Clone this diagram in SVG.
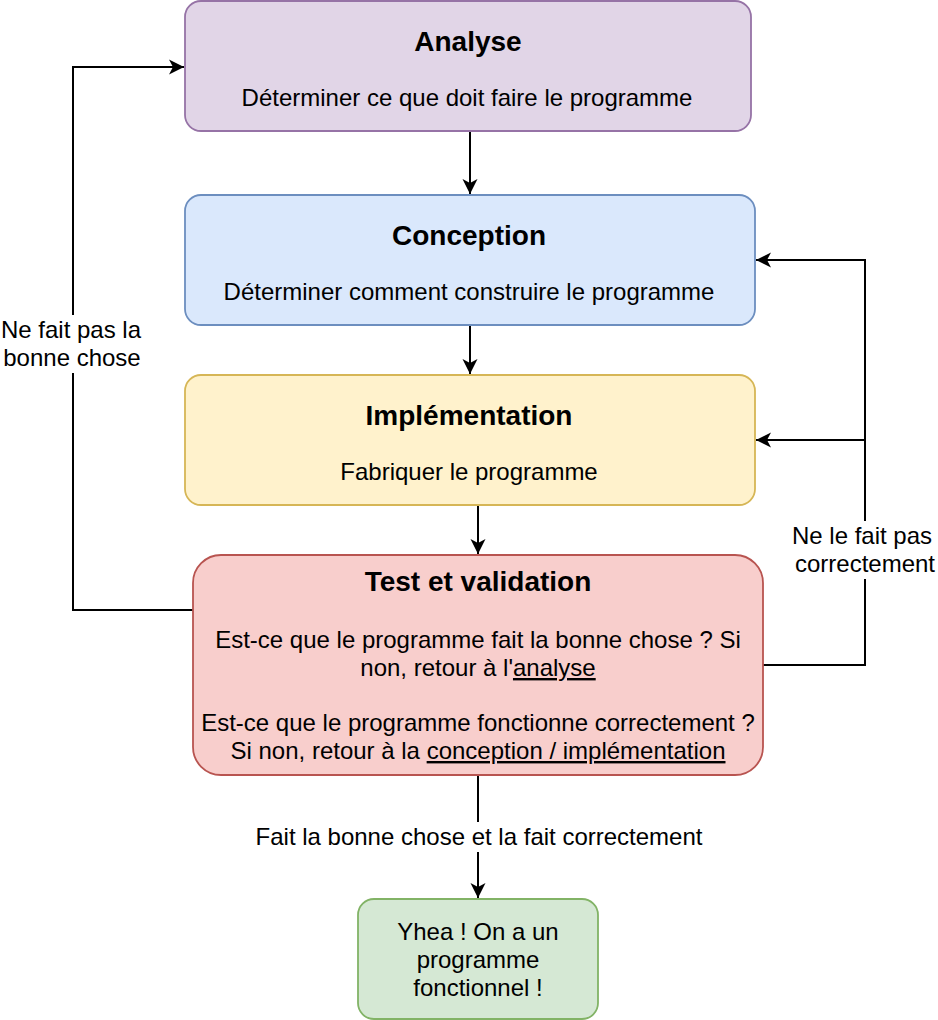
<svg xmlns="http://www.w3.org/2000/svg" width="938" height="1020" viewBox="0 0 938 1020">
<style>
text{font-family:"Liberation Sans",Arial,sans-serif;fill:#000;text-anchor:middle}
.t{font-size:28px;font-weight:bold}
.b{font-size:24px}
.u{text-decoration:underline}
.e{fill:none;stroke:#000;stroke-width:2}
.n{stroke-width:1.8}
</style>
<defs>
<marker id="ar" markerUnits="userSpaceOnUse" markerWidth="18" markerHeight="18" viewBox="0 0 18 18" refX="16" refY="9" orient="auto">
<path d="M1,1.5 L16,9 L1,16.5 L5,9 Z" fill="#000"/>
</marker>
</defs>
<rect width="938" height="1020" fill="#fff"/>
<g id="connectors">
<path class="e" d="M470,131 V194" marker-end="url(#ar)"/>
<path class="e" d="M470,325 V374" marker-end="url(#ar)"/>
<path class="e" d="M478,505 V554" marker-end="url(#ar)"/>
<path class="e" d="M478,775 V898" marker-end="url(#ar)"/>
<path class="e" d="M193,610 H73 V67 H184" marker-end="url(#ar)"/>
<path class="e" d="M763,665 H865 V440 H756" marker-end="url(#ar)"/>
<path class="e" d="M865,440 V260 H756" marker-end="url(#ar)"/>
<rect x="252" y="822" width="454" height="30" fill="#fff"/>
<text class="b" x="479" y="845">Fait la bonne chose et la fait correctement</text>
<rect x="0" y="315" width="146" height="58" fill="#fff"/>
<text class="b" x="71" y="338">Ne fait pas la</text>
<text class="b" x="72" y="366">bonne chose</text>
<rect x="788" y="521" width="150" height="58" fill="#fff"/>
<text class="b" x="862" y="544">Ne le fait pas</text>
<text class="b" x="865" y="572">correctement</text>
</g>
<g id="analyse">
<rect class="n" x="185" y="1" width="566" height="130" rx="16" fill="#e1d5e7" stroke="#9673a6"/>
<text class="t" x="468" y="51">Analyse</text>
<text class="b" x="467" y="106">Déterminer ce que doit faire le programme</text>
</g>
<g id="conception">
<rect class="n" x="185" y="195" width="570" height="130" rx="16" fill="#dae8fc" stroke="#6c8ebf"/>
<text class="t" x="469" y="245">Conception</text>
<text class="b" x="469" y="300">Déterminer comment construire le programme</text>
</g>
<g id="implementation">
<rect class="n" x="185" y="375" width="570" height="130" rx="16" fill="#fff2cc" stroke="#d6b656"/>
<text class="t" x="469" y="425">Implémentation</text>
<text class="b" x="469" y="480">Fabriquer le programme</text>
</g>
<g id="test">
<rect class="n" x="193" y="555" width="570" height="220" rx="28" fill="#f8cecc" stroke="#b85450"/>
<text class="t" x="478" y="591">Test et validation</text>
<text class="b" x="478" y="648">Est-ce que le programme fait la bonne chose ? Si</text>
<text class="b" x="478" y="676">non, retour à l'<tspan class="u">analyse</tspan></text>
<text class="b" x="478" y="731">Est-ce que le programme fonctionne correctement ?</text>
<text class="b" x="478" y="759">Si non, retour à la <tspan class="u">conception / implémentation</tspan></text>
</g>
<g id="final">
<rect class="n" x="358" y="899" width="240" height="120" rx="16" fill="#d5e8d4" stroke="#82b366"/>
<text class="b" x="478" y="940">Yhea ! On a un</text>
<text class="b" x="478" y="968">programme</text>
<text class="b" x="478" y="996">fonctionnel !</text>
</g>
</svg>
